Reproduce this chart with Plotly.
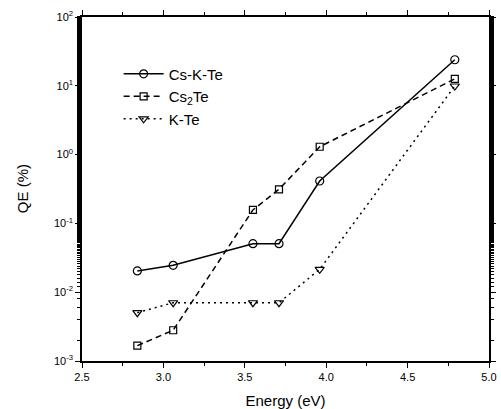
import plotly.graph_objects as go

energy = [2.84, 3.06, 3.55, 3.71, 3.96, 4.79]
qe_cskte = [0.0204, 0.0246, 0.0507, 0.0507, 0.413, 23.9]
qe_cs2te = [0.00167, 0.0028, 0.157, 0.313, 1.30, 12.6]
qe_kte = [0.00504, 0.00703, 0.00703, 0.00703, 0.0215, 9.93]

x_ticks = [2.5, 3.0, 3.5, 4.0, 4.5, 5.0]
x_ticklabels = ["2.5", "3.0", "3.5", "4.0", "4.5", "5.0"]
y_ticks = [1e-3, 1e-2, 1e-1, 1e0, 1e1, 1e2]
y_ticklabels = ["10<sup>-3</sup>", "10<sup>-2</sup>", "10<sup>-1</sup>",
                "10<sup>0</sup>", "10<sup>1</sup>", "10<sup>2</sup>"]

fig = go.Figure()
fig.add_trace(go.Scatter(x=energy, y=qe_cskte, name="Cs-K-Te", mode="lines+markers",
                         line=dict(color="black", width=1.5, dash="solid"),
                         marker=dict(symbol="circle-open", size=8, color="black", line=dict(width=1.2))))
fig.add_trace(go.Scatter(x=energy, y=qe_cs2te, name="Cs<sub>2</sub>Te", mode="lines+markers",
                         line=dict(color="black", width=1.5, dash="6px,4px"),
                         marker=dict(symbol="square-open", size=7, color="black", line=dict(width=1.2))))
fig.add_trace(go.Scatter(x=energy, y=qe_kte, name="K-Te", mode="lines+markers",
                         line=dict(color="black", width=1.5, dash="2px,4px"),
                         marker=dict(symbol="triangle-down-open", size=8, color="black", line=dict(width=1.2))))

axis_common = dict(showline=True, linecolor="black", linewidth=1.5, mirror="ticks",
                   ticks="outside", ticklen=5, tickwidth=1.2, tickcolor="black",
                   showgrid=False, zeroline=False, automargin=False,
                   tickfont=dict(family="Liberation Sans, Arial", size=11, color="black"))

fig.update_xaxes(range=[2.5, 5.0], tickvals=x_ticks, ticktext=x_ticklabels,
                 minor=dict(dtick=0.25, ticks="outside", ticklen=3, tickcolor="black"),
                 title=dict(text="Energy (eV)", font=dict(family="Liberation Sans, Arial", size=15, color="black")),
                 **axis_common)
fig.update_yaxes(type="log", range=[-3, 2], tickvals=y_ticks, ticktext=y_ticklabels,
                 minor=dict(ticks="outside", ticklen=3, tickcolor="black", showgrid=False),
                 **axis_common)

fig.add_annotation(text="QE (%)", xref="paper", yref="paper", x=-0.147, y=0.5,
                   xanchor="center", yanchor="middle", textangle=-90, showarrow=False,
                   font=dict(family="Liberation Sans, Arial", size=15, color="black"))

fig.update_layout(
    width=501, height=409,
    margin=dict(l=82, r=12, t=17, b=48),
    plot_bgcolor="white", paper_bgcolor="white",
    legend=dict(x=0.09, y=0.882, xanchor="left", yanchor="top",
                bgcolor="rgba(0,0,0,0)", borderwidth=0,
                font=dict(family="Liberation Sans, Arial", size=15, color="black"),
                tracegroupgap=0, itemwidth=40),
)

fig.write_html("out.html", config={"displayModeBar": False},
               post_script="document.body.style.margin='0px';document.body.style.padding='0px';")
